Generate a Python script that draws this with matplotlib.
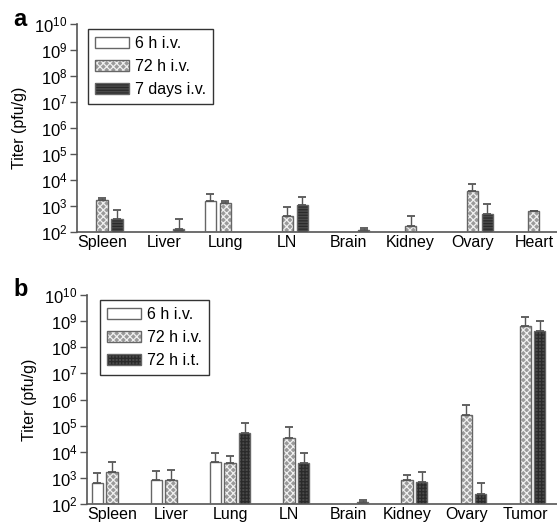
import numpy as np
import matplotlib
matplotlib.use("Agg")
import matplotlib.pyplot as plt
from matplotlib.patches import Patch
from matplotlib.legend_handler import HandlerTuple

plt.rcParams['font.family'] = ['Liberation Sans', 'DejaVu Sans']
plt.rcParams['mathtext.fontset'] = 'custom'
plt.rcParams['mathtext.rm'] = 'Liberation Sans'
plt.rcParams['mathtext.it'] = 'Liberation Sans:italic'
plt.rcParams['hatch.linewidth'] = 0.9

nan = np.nan
# ---- Panel a data ----
cats_a = ["Spleen", "Liver", "Lung", "LN", "Brain", "Kidney", "Ovary", "Heart"]
labels_a = ["6 h i.v.", "72 h i.v.", "7 days i.v."]
a_6h = [nan, nan, 1500, nan, nan, nan, nan, nan]
a_6h_err = [nan, nan, 2800, nan, nan, nan, nan, nan]
a_72h = [1650, nan, 1350, 400, nan, 175, 3780, 620]
a_72h_err = [2100, nan, 1500, 920, nan, 410, 6800, 660]
a_7d = [310, 130, nan, 1130, 115, nan, 490, nan]
a_7d_err = [720, 310, nan, 2230, 147, nan, 1160, nan]

# ---- Panel b data ----
cats_b = ["Spleen", "Liver", "Lung", "LN", "Brain", "Kidney", "Ovary", "Tumor"]
labels_b = ["6 h i.v.", "72 h i.v.", "72 h i.t."]
b_6h = [640, 860, 4200, nan, nan, nan, nan, nan]
b_6h_err = [1560, 1770, 8700, nan, nan, nan, nan, nan]
b_72h = [1660, 810, 3820, 35000, nan, 860, 250000, 6.6e8]
b_72h_err = [4200, 1990, 7000, 87000, nan, 1310, 620000, 1.5e9]
b_it = [nan, nan, 53000, 3730, 116, 700, 250, 4.2e8]
b_it_err = [nan, nan, 126000, 8900, 148, 1710, 620, 1.0e9]

yticks = [1e2, 1e3, 1e4, 1e5, 1e6, 1e7, 1e8, 1e9, 1e10]
ytick_labels = [r"$\mathdefault{10^{%d}}$" % e for e in range(2, 11)]

styles = {
    "white": dict(face="white", hatch=None, hcol="white"),
    "check": dict(face="#9a9a9a", hatch="xxxxx", hcol="#f0f0f0"),
    "hline": dict(face="#4a4a4a", hatch="------", hcol="#2a2a2a"),
    "grid": dict(face="#4a4a4a", hatch="+++++", hcol="#2a2a2a"),
}
outline = "#666666"

fig = plt.figure(figsize=(5.57, 5.23), dpi=100)


def draw_panel(rect, cats, series, errs, labels, style_keys, xlim, width, off, letter, leg_anchor):
    ax = fig.add_axes(rect)
    x = np.arange(len(cats))
    handles = []
    for i, (vals, ev, sk) in enumerate(zip(series, errs, style_keys)):
        st = styles[sk]
        vals = np.array(vals, dtype=float)
        ev = np.array(ev, dtype=float)
        xs = x + (i - 1) * off
        mask = ~np.isnan(vals)
        bottoms = np.full(mask.sum(), 1e2)
        heights = vals[mask] - 1e2
        ax.bar(xs[mask], heights, width, bottom=bottoms, color=st["face"],
               hatch=st["hatch"], edgecolor=st["hcol"], linewidth=0, zorder=2)
        ax.bar(xs[mask], heights, width, bottom=bottoms, fill=False,
               edgecolor=outline, linewidth=1.0, zorder=3)
        emask = ~np.isnan(ev)
        ax.errorbar(xs[emask], vals[emask],
                    yerr=[np.zeros(emask.sum()), ev[emask] - vals[emask]],
                    fmt="none", ecolor="#555555", elinewidth=1.0, capsize=3,
                    capthick=1.3, zorder=4)
        p1 = Patch(facecolor=st["face"], hatch=st["hatch"], edgecolor=st["hcol"], linewidth=0)
        p2 = Patch(fill=False, edgecolor=outline, linewidth=1.0)
        handles.append((p1, p2))
    ax.set_yscale("log")
    ax.set_ylim(1e2, 1e10)
    ax.set_xlim(*xlim)
    ax.set_yticks(yticks)
    ax.set_yticklabels(ytick_labels)
    ax.yaxis.set_minor_locator(matplotlib.ticker.NullLocator())
    ax.set_xticks(x)
    ax.set_xticklabels(cats, fontsize=11.5)
    ax.tick_params(axis="x", length=0, pad=2)
    ax.tick_params(axis="y", length=5, width=1.0, color="#555555", labelsize=12, pad=2)
    for s in ["top", "right"]:
        ax.spines[s].set_visible(False)
    for s in ["left", "bottom"]:
        ax.spines[s].set_color("#555555")
        ax.spines[s].set_linewidth(1.2)
    ax.set_ylabel("Titer (pfu/g)", fontsize=11.5)
    ax.yaxis.set_label_coords(-50 / (rect[2] * 557), 0.5)
    leg = ax.legend(handles, labels, loc="upper left", bbox_to_anchor=leg_anchor,
                    handler_map={tuple: HandlerTuple(ndivide=1, pad=0)},
                    fontsize=11.5, frameon=True, fancybox=False, edgecolor="black",
                    handlelength=2.1, handleheight=0.7, handletextpad=0.37,
                    labelspacing=0.5, borderpad=0.45, borderaxespad=0)
    leg.get_frame().set_linewidth(1.0)
    ax.text(-0.13, 1.03, letter, transform=ax.transAxes, fontsize=17,
            fontweight="bold", ha="left", va="center")
    return ax


axa = draw_panel([77 / 557, 1 - 232 / 523, 480 / 557, 208 / 523], cats_a,
                 [a_6h, a_72h, a_7d], [a_6h_err, a_72h_err, a_7d_err], labels_a,
                 ["white", "check", "hline"], (-0.405, 7.374), 0.18, 0.243, "a",
                 (0.023, 0.976))
axa.texts[-1].set_position((-64 / 480, 1 + 4 / 208))

axb = draw_panel([87 / 557, 1 - 504 / 523, 470 / 557, 209 / 523], cats_b,
                 [b_6h, b_72h, b_it], [b_6h_err, b_72h_err, b_it_err], labels_b,
                 ["white", "check", "grid"], (-0.424, 7.54), 0.19, 0.25, "b",
                 (0.028, 0.976))
axb.texts[-1].set_position((-74 / 470, 1 + 5 / 209))

fig.savefig("out.png", dpi=100)
